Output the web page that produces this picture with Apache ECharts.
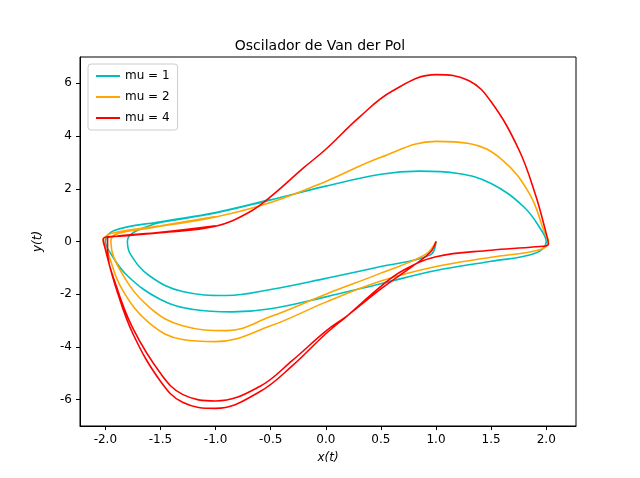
<!DOCTYPE html>
<html>
<head>
<meta charset="utf-8">
<script src="https://cdn.jsdelivr.net/npm/echarts@6/dist/echarts.min.js"></script>
<style>html,body{margin:0;background:#fff}#c{width:640px;height:478px}</style>
</head>
<body>
<div id="c"></div>
<script>
// points, in trajectory order (start at x=1, y=0)
const mu1 = [[1,0],[0.95,-0.5],[0.5,-0.95],[0,-1.4],[-0.5,-1.82],[-0.9,-2.05],[-1.3,-1.9],[-1.6,-1.3],[-1.77,-0.5],[-1.8,0],[-1.76,0.3],[-1.6,0.6],
  [-1.5,0.72],[-1,1.08],[-0.5,1.58],[0,2.1],[0.5,2.55],[0.85,2.67],[1.2,2.58],[1.5,2.2],[1.8,1.3],[1.96,0.4],[2.0,0],
  [1.9,-0.45],[1.5,-0.75],[1,-1.1],[0.5,-1.6],[0,-2.1],[-0.5,-2.55],[-0.85,-2.67],[-1.2,-2.58],[-1.5,-2.2],[-1.8,-1.3],[-1.96,-0.4],[-2.0,0],
  [-1.92,0.42],[-1.5,0.75],[-1,1.1],[-0.5,1.6]];
const mu2 = [[1,0],[0.9,-0.5],[0.5,-1.2],[0,-2.0],[-0.5,-2.85],[-0.9,-3.38],[-1.3,-3.2],[-1.6,-2.5],[-1.85,-1.2],[-1.95,0],[-1.9,0.28],[-1.6,0.5],
  [-1.5,0.58],[-1,0.93],[-0.5,1.48],[0,2.28],[0.5,3.2],[1.0,3.8],[1.3,3.72],[1.6,3.1],[1.85,1.8],[1.98,0.4],[2.02,0],
  [1.95,-0.3],[1.5,-0.6],[1,-0.95],[0.5,-1.5],[0,-2.3],[-0.5,-3.2],[-1.0,-3.8],[-1.3,-3.72],[-1.6,-3.1],[-1.85,-1.8],[-1.98,-0.4],[-2.02,0],
  [-1.95,0.3],[-1.5,0.6],[-1,0.95]];
const mu4 = [[1,0],[0.95,-0.4],[0.8,-0.9],[0.5,-1.8],[0.2,-2.8],[0,-3.4],[-0.3,-4.5],[-0.6,-5.5],[-1,-6.05],[-1.3,-5.8],[-1.5,-5.0],[-1.75,-3.3],[-1.9,-1.7],[-1.98,-0.3],[-1.98,0.12],[-1.8,0.22],
  [-1.5,0.33],[-1,0.58],[-0.7,1.1],[-0.5,1.7],[-0.2,2.8],[0,3.5],[0.3,4.7],[0.6,5.7],[1.0,6.33],[1.3,6.1],[1.5,5.3],[1.75,3.5],[1.9,1.8],[2.0,0.3],[2.02,-0.1],
  [1.9,-0.2],[1.5,-0.33],[1,-0.58],[0.7,-1.1],[0.5,-1.7],[0.2,-2.8],[0,-3.5],[-0.3,-4.7],[-0.6,-5.7],[-1.0,-6.33],[-1.3,-6.1],[-1.5,-5.3],[-1.75,-3.5],[-1.9,-1.8],[-2.0,-0.3],[-2.02,0.1],
  [-1.9,0.2],[-1.5,0.35],[-1,0.6]];
const xTicks = [-2.0,-1.5,-1.0,-0.5,0.0,0.5,1.0,1.5,2.0];
const yTicks = [-6,-4,-2,0,2,4,6];
const names = ['mu = 1','mu = 2','mu = 4'];
const colors = ['#00bfbf','#ffa500','#ff0000'];

const chart = echarts.init(document.getElementById('c'));
const font = 'DejaVu Sans';
function axis(min, max, ticks, name, gap, fmt) {
  return {
    type: 'value', min: min, max: max, name: name, nameLocation: 'middle', nameGap: gap,
    nameTextStyle: {fontFamily: font, fontSize: 12, fontStyle: 'italic', color: '#000'},
    axisLine: {show: true, onZero: false, lineStyle: {color: '#000', width: 1}},
    axisTick: {show: true, length: 4, customValues: ticks, lineStyle: {color: '#000'}},
    axisLabel: {customValues: ticks, fontFamily: font, fontSize: 12, color: '#000', formatter: fmt},
    splitLine: {show: false}
  };
}
const series = [mu1, mu2, mu4].map((d, i) => ({
  name: names[i], type: 'line', data: d, showSymbol: false, smooth: 0.4,
  lineStyle: {color: colors[i], width: 1.6}, itemStyle: {color: colors[i]}
}));
chart.setOption({
  animation: false,
  title: {text: 'Oscilador de Van der Pol', left: 'center', top: 34,
    textStyle: {fontFamily: font, fontSize: 14, fontWeight: 'normal', color: '#000'}},
  grid: {left: 80, right: 64, top: 57, bottom: 52, show: true, borderColor: '#000', borderWidth: 1},
  xAxis: axis(-2.23, 2.27, xTicks, 'x(t)', 26, v => v.toFixed(1)),
  yAxis: axis(-7, 7, yTicks, 'y(t)', 36, v => String(v)),
  legend: {orient: 'vertical', left: 88, top: 64, itemWidth: 24, itemHeight: 2, icon: 'rect', itemGap: 9,
    padding: [6, 8], borderColor: '#ccc', borderWidth: 1, borderRadius: 3, backgroundColor: '#fff',
    textStyle: {fontFamily: font, fontSize: 12, color: '#000'}, data: names},
  series: series
});
</script>
</body>
</html>
